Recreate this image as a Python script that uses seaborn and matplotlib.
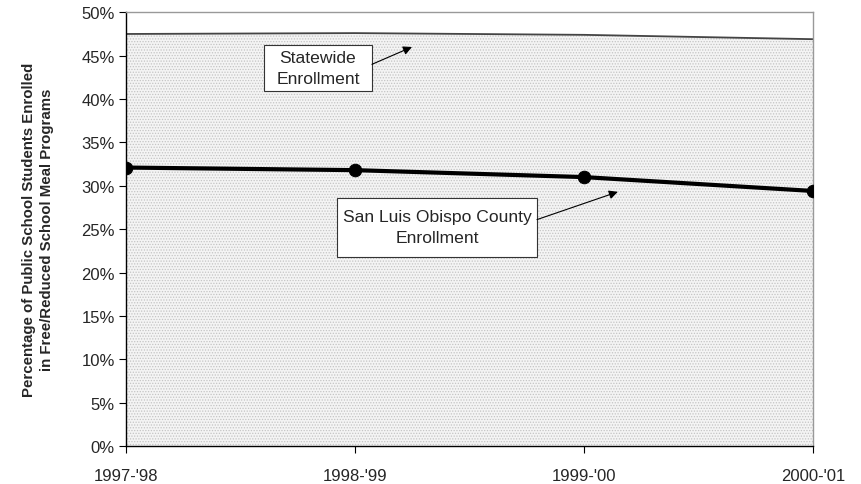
import matplotlib
matplotlib.use("Agg")
import matplotlib.pyplot as plt
from matplotlib.patches import Rectangle
import seaborn as sns
import pandas as pd
import numpy as np

years = ["1997-'98", "1998-'99", "1999-'00", "2000-'01"]
statewide = [47.5, 47.6, 47.4, 46.9]
slo_county = [32.1, 31.8, 31.0, 29.4]
y_ticks = list(range(0, 51, 5))

sns.set_style("white")
plt.rcParams['font.family'] = ['Liberation Sans', 'DejaVu Sans']
plt.rcParams['hatch.linewidth'] = 0.6

df = pd.DataFrame({"pos": np.arange(len(years)), "year": years,
                   "statewide": statewide, "slo": slo_county})

fig = plt.figure(figsize=(8.61, 4.85), dpi=100)
ax = fig.add_axes([0.1463, 0.0784, 0.7979, 0.8942])

ax.fill_between(df["pos"], 0, df["statewide"], facecolor="#f4f4f4",
                edgecolor="#c4c4c4", hatch="......", linewidth=0, zorder=1)
ax.plot(df["pos"], df["statewide"], color="#444444", linewidth=1.3, zorder=2)

sns.lineplot(data=df, x="pos", y="slo", ax=ax, color="black", linewidth=3,
             marker="o", markersize=9, markeredgecolor="black", zorder=3)

ax.set_xlim(0, len(years) - 1)
ax.set_ylim(0, 50)
ax.set_xticks(df["pos"])
ax.set_xticklabels(years, fontsize=12)
ax.set_yticks(y_ticks)
ax.set_yticklabels([f"{v}%" for v in y_ticks], fontsize=12)
ax.tick_params(axis="both", direction="out", length=5, width=0.8, color="black",
               bottom=True, left=True)
ax.tick_params(axis="x", pad=11)
ax.tick_params(axis="y", pad=3)
ax.set_xlabel("")
ax.set_ylabel("Percentage of Public School Students Enrolled\nin Free/Reduced School Meal Programs",
              fontsize=10.8, fontweight="bold", labelpad=20, linespacing=1.3)

for side in ["left", "bottom"]:
    ax.spines[side].set_color("black")
    ax.spines[side].set_linewidth(1.0)
for side in ["top", "right"]:
    ax.spines[side].set_color("#999999")
    ax.spines[side].set_linewidth(1.0)

def label_box(x0, x1, y0, y1, text, tail, head):
    ax.add_patch(Rectangle((x0, y0), x1 - x0, y1 - y0, facecolor="white",
                           edgecolor="#333333", linewidth=0.8, zorder=5))
    ax.text((x0 + x1) / 2, (y0 + y1) / 2, text, ha="center", va="center",
            fontsize=12.6, linespacing=1.5, zorder=6)
    ax.annotate("", xy=head, xytext=tail,
                arrowprops=dict(arrowstyle="-|>", color="black", lw=0.8, shrinkA=0,
                                shrinkB=0, mutation_scale=13), zorder=6)

label_box(0.603, 1.074, 40.9, 46.2, "Statewide\nEnrollment", (1.074, 44.0), (1.249, 46.0))
label_box(0.921, 1.795, 21.8, 28.6, "San Luis Obispo County\nEnrollment", (1.795, 26.1), (2.148, 29.3))

fig.savefig("out.png", dpi=100)
